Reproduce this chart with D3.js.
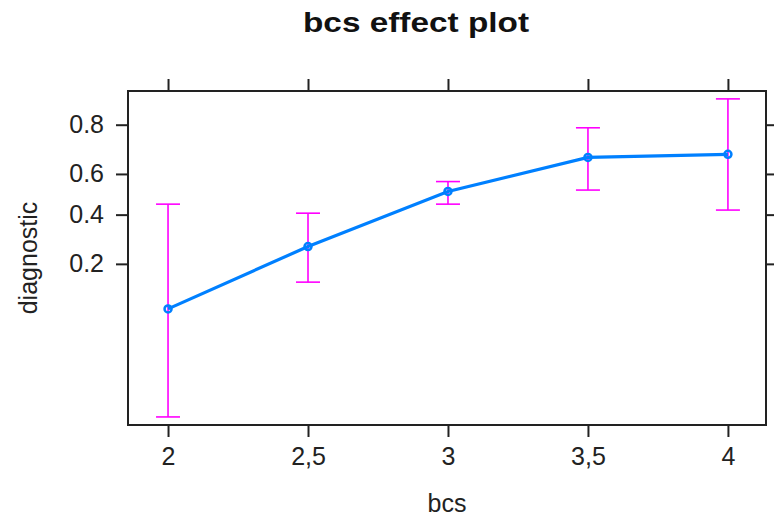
<html>
<head>
<script src="https://d3js.org/d3.v7.min.js"></script>
<style>
body { margin: 0; background: #fff; }
svg { font-family: 'Liberation Sans', Arial, sans-serif; }
</style>
</head>
<body>
<div id="plot"></div>
<script>

var width = 774;
var height = 518;

// effect estimates (probability scale)
var bcs = [2, 2.5, 3, 3.5, 4];
var fit = [0.0925, 0.261, 0.514, 0.676, 0.689];
var lower = [0.0117, 0.148, 0.451, 0.521, 0.422];
var upper = [0.451, 0.407, 0.563, 0.790, 0.870];
var yTicks = [0.2, 0.4, 0.6, 0.8];

var panel = { left: 128, right: 766, top: 91, bottom: 425 };

function logit(p) { return Math.log(p / (1 - p)); }
function invlogit(x) { return 1 / (1 + Math.exp(-x)); }

var commaLocale = d3.formatLocale({ decimal: ",", thousands: ".", grouping: [3], currency: ["", ""] });
var xFormat = commaLocale.format("~g");

var svg = d3.select("#plot").append("svg")
.attr("width", width).attr("height", height);

var xScale = d3.scaleLinear().domain([1.857, 4.136]).range([panel.left, panel.right]);
var yScale = d3.scaleLinear().domain([-4.597, 2.058]).range([panel.bottom, panel.top]);

/*** axes on all four sides, lattice style ***/
var tickLen = 12;

var bottomAxis = d3.axisBottom(xScale).tickValues(bcs).tickFormat(xFormat)
.tickSizeInner(tickLen).tickSizeOuter(0).tickPadding(10);
var topAxis = d3.axisTop(xScale).tickValues(bcs).tickFormat("")
.tickSizeInner(tickLen).tickSizeOuter(0);
var leftAxis = d3.axisLeft(yScale).tickValues(yTicks.map(logit))
.tickFormat(function (d) { return d3.format(".1f")(invlogit(d)); })
.tickSizeInner(tickLen).tickSizeOuter(0).tickPadding(12);
var rightAxis = d3.axisRight(yScale).tickValues(yTicks.map(logit)).tickFormat("")
.tickSizeInner(tickLen).tickSizeOuter(0);

function styleAxis(g) {
	g.select(".domain").remove();
	g.selectAll(".tick line").attr("stroke", "#222").attr("stroke-width", 2);
	g.selectAll(".tick text").attr("fill", "#222").style("font-size", "25px");
}

svg.append("g").attr("transform", "translate(0," + panel.bottom + ")").call(bottomAxis).call(styleAxis);
svg.append("g").attr("transform", "translate(0," + panel.top + ")").call(topAxis).call(styleAxis);
svg.append("g").attr("transform", "translate(" + panel.left + ",0)").call(leftAxis).call(styleAxis);
svg.append("g").attr("transform", "translate(" + panel.right + ",0)").call(rightAxis).call(styleAxis);

svg.append("rect")
.attr("x", panel.left).attr("y", panel.top)
.attr("width", panel.right - panel.left).attr("height", panel.bottom - panel.top)
.attr("fill", "none").attr("stroke", "#222").attr("stroke-width", 2);

/*** confidence bars ***/
var capHalf = 12;
var bars = svg.append("g").attr("stroke", "#ff00ff").attr("stroke-width", 1.6).attr("fill", "none");
bcs.forEach(function (b, i) {
	var x = xScale(b);
	var y0 = yScale(logit(lower[i]));
	var y1 = yScale(logit(upper[i]));
	bars.append("line").attr("x1", x).attr("x2", x).attr("y1", y0).attr("y2", y1);
	bars.append("line").attr("x1", x - capHalf).attr("x2", x + capHalf).attr("y1", y0).attr("y2", y0);
	bars.append("line").attr("x1", x - capHalf).attr("x2", x + capHalf).attr("y1", y1).attr("y2", y1);
});

/*** fitted line and points ***/
var line = d3.line()
.x(function (d, i) { return xScale(bcs[i]); })
.y(function (d) { return yScale(logit(d)); });

svg.append("path").datum(fit)
.attr("d", line)
.attr("fill", "none").attr("stroke", "#0080ff").attr("stroke-width", 3.2);

svg.selectAll("circle.pt").data(fit).enter()
.append("circle").attr("class", "pt")
.attr("cx", function (d, i) { return xScale(bcs[i]); })
.attr("cy", function (d) { return yScale(logit(d)); })
.attr("r", 3.5)
.attr("fill", "none").attr("stroke", "#0080ff").attr("stroke-width", 2.5);

/*** labels ***/
svg.append("text")
.attr("x", 416).attr("y", 32)
.attr("text-anchor", "middle")
.attr("textLength", 226).attr("lengthAdjust", "spacingAndGlyphs")
.style("font-size", "28px").style("font-weight", "bold")
.attr("fill", "#111")
.text("bcs effect plot");

svg.append("text")
.attr("x", (panel.left + panel.right) / 2).attr("y", 512)
.attr("text-anchor", "middle")
.style("font-size", "25px").attr("fill", "#222")
.text("bcs");

svg.append("text")
.attr("transform", "translate(37," + ((panel.top + panel.bottom) / 2) + ") rotate(-90)")
.attr("text-anchor", "middle")
.style("font-size", "25px").attr("fill", "#222")
.text("diagnostic");

</script>
</body>
</html>
